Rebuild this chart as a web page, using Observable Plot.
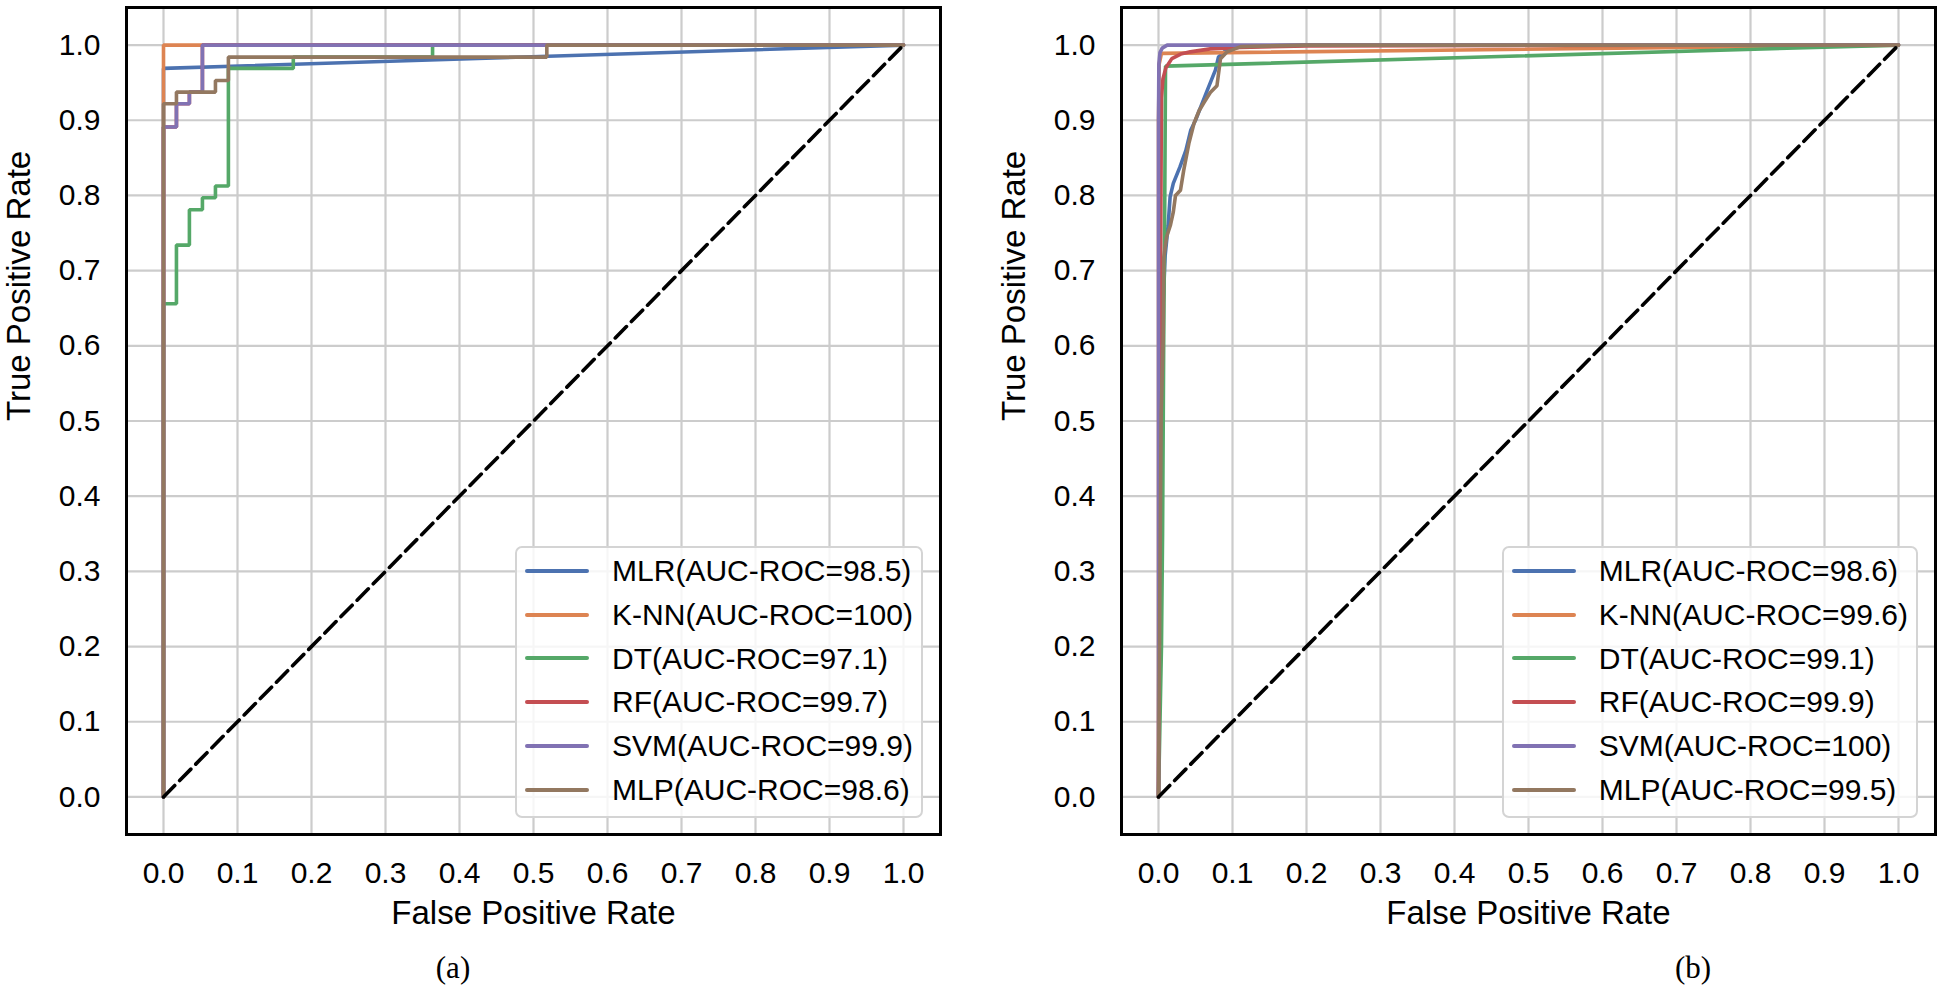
<!DOCTYPE html>
<html><head><meta charset="utf-8">
<script src="https://cdn.jsdelivr.net/npm/d3@7"></script>
<script src="https://cdn.jsdelivr.net/npm/@observablehq/plot@0.6"></script>
<style>
html,body{margin:0;padding:0;background:#fff;}
body{width:1945px;height:989px;overflow:hidden;position:relative;font-family:"Liberation Sans",Arial,sans-serif;}
.panel{position:absolute;top:0;}
.legend{position:absolute;top:546px;box-sizing:border-box;border:2px solid #d4d4d4;border-radius:7px;background:rgba(255,255,255,0.82);padding:1px 8px 4px 8px;}
.legend .row{height:43.8px;display:flex;align-items:center;font-size:30px;line-height:43.8px;color:#000;white-space:nowrap;}
.legend .sw{width:64px;height:4px;border-radius:2px;margin-right:23px;flex:none;}
.caption{position:absolute;font-family:"Liberation Serif","Times New Roman",serif;font-size:31px;transform:translate(-50%,-50%);color:#000;}
</style></head><body>
<div id="pa" class="panel" style="left:0px"></div>
<div id="pb" class="panel" style="left:995px"></div>
<script>
// ---- categories / labels ----
const models = ["MLR", "K-NN", "DT", "RF", "SVM", "MLP"];
const colors = ["#4C72B0", "#DD8452", "#55A868", "#C44E52", "#8172B3", "#937860"];
const aucA = ["98.5", "100", "97.1", "99.7", "99.9", "98.6"];
const aucB = ["98.6", "99.6", "99.1", "99.9", "100", "99.5"];
const tickVals = [0, 0.1, 0.2, 0.3, 0.4, 0.5, 0.6, 0.7, 0.8, 0.9, 1.0];
const xLabel = "False Positive Rate";
const yLabel = "True Positive Rate";
const captions = ["(a)", "(b)"];
const diagFpr = [0, 1];
const diagTpr = [0, 1];

// ---- panel (a) ROC curves ----
const mlrA_fpr = [0, 0, 1];
const mlrA_tpr = [0, 0.969, 1];
const knnA_fpr = [0, 0, 1];
const knnA_tpr = [0, 1, 1];
const dtA_fpr = [0, 0, 0.0175, 0.0175, 0.035, 0.035, 0.0526, 0.0526, 0.0702, 0.0702, 0.0877, 0.0877, 0.1754, 0.1754, 0.3636, 0.3636, 1];
const dtA_tpr = [0, 0.656, 0.656, 0.734, 0.734, 0.781, 0.781, 0.797, 0.797, 0.8125, 0.8125, 0.969, 0.969, 0.984, 0.984, 1, 1];
const rfA_fpr = [0, 0, 0.0175, 0.0175, 0.035, 0.035, 0.0526, 0.0526, 1];
const rfA_tpr = [0, 0.891, 0.891, 0.922, 0.922, 0.9375, 0.9375, 1, 1];
const svmA_fpr = [0, 0, 0.0175, 0.0175, 0.035, 0.035, 0.0526, 0.0526, 1];
const svmA_tpr = [0, 0.891, 0.891, 0.922, 0.922, 0.9375, 0.9375, 1, 1];
const mlpA_fpr = [0, 0, 0.0175, 0.0175, 0.0702, 0.0702, 0.0877, 0.0877, 0.518, 0.518, 1];
const mlpA_tpr = [0, 0.922, 0.922, 0.9375, 0.9375, 0.953, 0.953, 0.984, 0.984, 1, 1];

// ---- panel (b) ROC curves ----
const mlrB_fpr = [0, 0.003, 0.006, 0.009, 0.013, 0.0157, 0.02, 0.029, 0.037, 0.0437, 0.05, 0.058, 0.066, 0.077, 0.081, 0.09, 0.11, 0.2, 1];
const mlrB_tpr = [0, 0.5, 0.65, 0.72, 0.76, 0.798, 0.816, 0.838, 0.86, 0.887, 0.9, 0.92, 0.94, 0.967, 0.984, 0.992, 0.998, 1, 1];
const knnB_fpr = [0, 0, 0.001, 0.004, 1];
const knnB_tpr = [0, 0.9, 0.975, 0.989, 1];
const dtB_fpr = [0, 0.004, 0.0055, 0.007, 0.0085, 0.0095, 1];
const dtB_tpr = [0, 0.2, 0.35, 0.6, 0.8, 0.972, 1];
const rfB_fpr = [0, 0.001, 0.003, 0.004, 0.006, 0.01, 0.018, 0.03, 0.043, 0.07, 0.11, 0.2, 1];
const rfB_tpr = [0, 0.4, 0.75, 0.93, 0.955, 0.97, 0.982, 0.988, 0.991, 0.995, 0.997, 0.999, 1];
const svmB_fpr = [0, 0, 0.0005, 0.002, 0.005, 0.0117, 1];
const svmB_tpr = [0, 0.9, 0.975, 0.99, 0.996, 1, 1];
const mlpB_fpr = [0, 0.002, 0.0036, 0.0063, 0.0072, 0.011, 0.016, 0.02, 0.023, 0.0297, 0.034, 0.041, 0.048, 0.055, 0.0617, 0.07, 0.079, 0.0838, 0.0928, 0.111, 0.2, 1];
const mlpB_tpr = [0, 0.3, 0.51, 0.607, 0.718, 0.745, 0.76, 0.778, 0.8, 0.807, 0.833, 0.869, 0.896, 0.913, 0.924, 0.937, 0.946, 0.982, 0.991, 0.998, 1, 1];

function table(pairs) {
  const rows = [];
  pairs.forEach(([fpr, tpr], i) => fpr.forEach((f, j) => rows.push({model: models[i], fpr: f, tpr: tpr[j]})));
  return rows;
}
const dataA = table([[mlrA_fpr, mlrA_tpr], [knnA_fpr, knnA_tpr], [dtA_fpr, dtA_tpr], [rfA_fpr, rfA_tpr], [svmA_fpr, svmA_tpr], [mlpA_fpr, mlpA_tpr]]);
const dataB = table([[mlrB_fpr, mlrB_tpr], [knnB_fpr, knnB_tpr], [dtB_fpr, dtB_tpr], [rfB_fpr, rfB_tpr], [svmB_fpr, svmB_tpr], [mlpB_fpr, mlpB_tpr]]);
const diag = diagFpr.map((f, i) => ({fpr: f, tpr: diagTpr[i]}));

const fmt = d3.format(".1f");

function panel(data, width, marginRight) {
  return Plot.plot({
    width, height: 940,
    marginLeft: 126, marginRight, marginTop: 7, marginBottom: 106,
    x: {domain: [-0.05, 1.05], label: null},
    y: {domain: [-0.05, 1.05], label: null},
    color: {domain: models, range: colors},
    style: {fontFamily: "'Liberation Sans', Arial, sans-serif", fontSize: "30px", color: "#000", background: "white", overflow: "visible"},
    marks: [
      Plot.gridX(tickVals, {stroke: "#cccccc", strokeOpacity: 1, strokeWidth: 2.2}),
      Plot.gridY(tickVals, {stroke: "#cccccc", strokeOpacity: 1, strokeWidth: 2.2}),
      Plot.line(data, {x: "fpr", y: "tpr", z: "model", stroke: "model", strokeWidth: 3.6, strokeLinejoin: "miter"}),
      Plot.line(diag, {x: "fpr", y: "tpr", stroke: "black", strokeWidth: 3.6, strokeDasharray: "16,7"}),
      Plot.axisX(tickVals, {tickSize: 0, tickPadding: 27, tickFormat: fmt, label: null, fontSize: 30, fill: "#000"}),
      Plot.axisY(tickVals, {tickSize: 0, tickPadding: 26, tickFormat: fmt, label: null, fontSize: 30, fill: "#000"}),
      Plot.frame({stroke: "black", strokeWidth: 3}),
      Plot.text([xLabel], {text: d => d, frameAnchor: "bottom", dy: 66, lineAnchor: "top", fontSize: 33, fill: "#000"}),
      Plot.text([yLabel], {text: d => d, frameAnchor: "left", dx: -107, rotate: -90, lineAnchor: "middle", fontSize: 33, fill: "#000"})
    ]
  });
}

document.getElementById("pa").appendChild(panel(dataA, 972, 32));
document.getElementById("pb").appendChild(panel(dataB, 950, 10));

function legend(aucs, rightPx) {
  const div = document.createElement("div");
  div.className = "legend";
  div.style.right = rightPx + "px";
  models.forEach((m, i) => {
    const row = document.createElement("div");
    row.className = "row";
    const sw = document.createElement("span");
    sw.className = "sw";
    sw.style.background = colors[i];
    row.appendChild(sw);
    row.appendChild(document.createTextNode(`${m}(AUC-ROC=${aucs[i]})`));
    div.appendChild(row);
  });
  document.body.appendChild(div);
}
legend(aucA, 1945 - 923);
legend(aucB, 1945 - 1918);

[[captions[0], 453, 968], [captions[1], 1693, 968]].forEach(([t, x, y]) => {
  const c = document.createElement("div");
  c.className = "caption";
  c.style.left = x + "px";
  c.style.top = y + "px";
  c.textContent = t;
  document.body.appendChild(c);
});
</script>
</body></html>
